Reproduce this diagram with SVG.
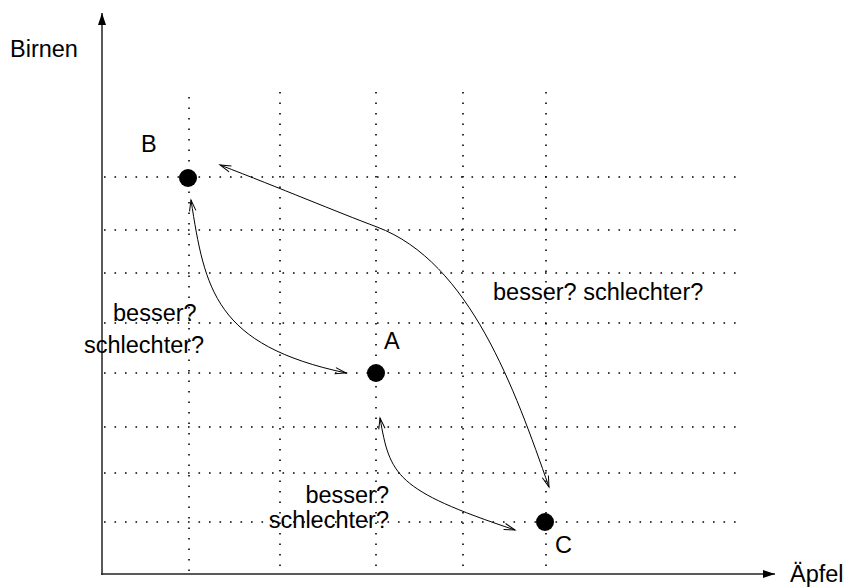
<svg xmlns="http://www.w3.org/2000/svg" width="848" height="588" viewBox="0 0 848 588">
  <defs>
    <style>
      .grid { stroke: #000; stroke-width: 1.6; stroke-dasharray: 1.6 8.9; fill: none; }
      .axis { stroke: #222; stroke-width: 1.5; fill: none; }
      .curve { stroke: #000; stroke-width: 1; fill: none; marker-start: url(#open); marker-end: url(#open); }
      .lbl { font-family: "Liberation Sans", Arial, sans-serif; font-size: 23.5px; fill: #000; }
      .pt { fill: #000; }
    </style>
    <marker id="open" viewBox="-12 -5 14 10" refX="0" refY="0" markerWidth="14" markerHeight="10" markerUnits="userSpaceOnUse" orient="auto-start-reverse">
      <path d="M-11,-3.2 L0,0 L-11,3.2" fill="none" stroke="#000" stroke-width="1"/>
    </marker>
    <marker id="solid" viewBox="-12 -5 13 10" refX="0" refY="0" markerWidth="13" markerHeight="10" markerUnits="userSpaceOnUse" orient="auto">
      <path d="M-12,-4 L0,0 L-12,4 Z" fill="#000"/>
    </marker>
  </defs>

  <g id="grid">
    <line class="grid" x1="189" y1="97" x2="189" y2="574"/>
    <line class="grid" x1="280" y1="92" x2="280" y2="574"/>
    <line class="grid" x1="376" y1="92" x2="376" y2="574"/>
    <line class="grid" x1="463" y1="92" x2="463" y2="574"/>
    <line class="grid" x1="546" y1="92" x2="546" y2="574"/>
    <line class="grid" x1="104" y1="177" x2="736" y2="177"/>
    <line class="grid" x1="104" y1="230" x2="736" y2="230"/>
    <line class="grid" x1="104" y1="273" x2="736" y2="273"/>
    <line class="grid" x1="104" y1="323" x2="736" y2="323"/>
    <line class="grid" x1="104" y1="373" x2="736" y2="373"/>
    <line class="grid" x1="104" y1="427" x2="736" y2="427"/>
    <line class="grid" x1="104" y1="473" x2="736" y2="473"/>
    <line class="grid" x1="104" y1="522" x2="736" y2="522"/>
  </g>

  <g id="axes">
    <line class="axis" x1="102" y1="575" x2="102" y2="13" marker-end="url(#solid)"/>
    <line class="axis" x1="101" y1="574" x2="775" y2="574" marker-end="url(#solid)"/>
    <text class="lbl" x="10" y="57">Birnen</text>
    <text class="lbl" x="790" y="582">Äpfel</text>
  </g>

  <g id="connectors">
    <path class="curve" d="M191,200 C205,290 215,345 346,373"/>
    <path class="curve" d="M220,165 C280,188 337,212 377,227 C470,262 515,390 549,487"/>
    <path class="curve" d="M380,418 C390,475 395,490 515,530"/>
  </g>

  <g id="node-B">
    <circle class="pt" cx="188" cy="178" r="9"/>
    <text class="lbl" x="141" y="152">B</text>
  </g>
  <g id="node-A">
    <circle class="pt" cx="376" cy="373" r="9"/>
    <text class="lbl" x="384" y="349">A</text>
  </g>
  <g id="node-C">
    <circle class="pt" cx="545" cy="522" r="9"/>
    <text class="lbl" x="555" y="553">C</text>
  </g>

  <g id="labels">
    <text class="lbl" x="113" y="321">besser?</text>
    <text class="lbl" x="84" y="353">schlechter?</text>
    <text class="lbl" x="493" y="300">besser? schlechter?</text>
    <text class="lbl" x="389" y="503" text-anchor="end">besser?</text>
    <text class="lbl" x="389" y="528" text-anchor="end">schlechter?</text>
  </g>
</svg>
